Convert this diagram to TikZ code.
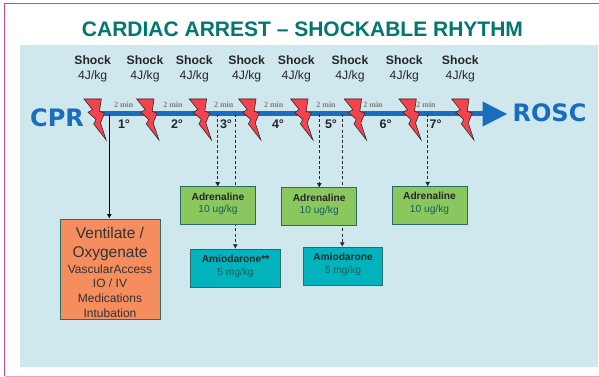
\documentclass[tikz,border=0pt]{standalone}
\usepackage{fontspec}
\setmainfont{Liberation Sans}
\newfontfamily\dejab{DejaVu Sans}
\newfontfamily\timesf{Liberation Serif}
\usetikzlibrary{arrows.meta}
\definecolor{panelc}{HTML}{CEE8EE}
\definecolor{titlec}{HTML}{00786F}
\definecolor{bluec}{HTML}{1A6DBE}
\definecolor{boltc}{HTML}{F2434F}
\definecolor{greenc}{HTML}{8AC75F}
\definecolor{tealc}{HTML}{00B3BD}
\definecolor{orangec}{HTML}{F58D5E}
\definecolor{edgec}{HTML}{2C6A66}
\definecolor{pinkc}{HTML}{C84B80}
\definecolor{pinkl}{HTML}{EDA3CC}
\definecolor{dosec}{HTML}{14605A}
\tikzset{
  x=1pt,y=-1pt,
  shocklab/.style={align=center,inner sep=0pt,font=\fontsize{12.2}{15.2}\selectfont,text=black!85},
  minlab/.style={inner sep=0pt,font=\timesf\bfseries\fontsize{8}{9}\selectfont,text=black!50},
  cyclab/.style={inner sep=0pt,font=\bfseries\fontsize{12.5}{14}\selectfont,text=black!85},
  bigblue/.style={inner sep=0pt,text=bluec,font=\dejab\bfseries\fontsize{24}{26}\selectfont},
  drugbox/.style={draw=edgec,line width=.9pt,inner sep=0pt,align=center,
     font=\fontsize{10.2}{12.6}\selectfont,text=dosec},
  adrbox/.style={drugbox,fill=greenc,minimum width=75pt,minimum height=38pt},
  amibox/.style={drugbox,fill=tealc,minimum height=38pt},
  ventbox/.style={draw=edgec,line width=.9pt,fill=orangec,inner sep=0pt,align=center,
     minimum width=100pt,minimum height=100.5pt,text=black!80,
     font=\fontsize{12}{14.8}\selectfont},
  dashline/.style={draw=black!85,line width=.8pt,dash pattern=on 3pt off 2.2pt,-{Latex[length=4.5pt,width=5pt]}},
  solidline/.style={draw=black,line width=.8pt,-{Latex[length=4.5pt,width=5pt]}},
  boltshape/.style={fill=boltc,draw=black!85,line width=.55pt,line join=miter}
}
\newcommand{\boltat}[1]{\draw[boltshape,shift={(#1,99)}] (0,0) -- (17.3,0) -- (15.5,12.3) -- (20.5,14) -- (16.5,24) -- (22.2,41) -- (9.7,25) -- (12,20.5) -- (4,13.3) -- (8.5,10.7) -- cycle;}
\newcommand{\adrtext}{\textcolor{black!85}{\textbf{Adrenaline}}\\10 ug/kg\rule[-6pt]{0pt}{6pt}}
\begin{document}
\begin{tikzpicture}
\useasboundingbox (0,0) rectangle (599,377);
\fill[white] (0,0) rectangle (599,377);
\fill[panelc] (20,45) rectangle (597.7,366.7);
\draw[pinkc,line width=.9pt] (599,3.7) -- (4.5,3.7) -- (4.5,376);
\draw[pinkl,line width=1.2pt] (4.5,376.2) -- (599,376.2);
\node[inner sep=0pt,text=titlec,font=\bfseries\fontsize{21}{24}\selectfont] (title) at (302.5,29.5) {CARDIAC ARREST – SHOCKABLE RHYTHM};
% timeline
\coordinate (tstart) at (100,114);
\coordinate (tend) at (507,114);
\draw[bluec,line width=5pt] (tstart) -- (483,114);
\fill[bluec] (482.7,101.5) -- (tend) -- (482.7,126.5) -- cycle;
\node[bigblue] (cpr) at (57,117.5) {CPR};
\node[bigblue] (rosc) at (549.5,112.5) {ROSC};
% coordinates on the timeline
\coordinate (v0) at (109.3,114);
\coordinate (d1) at (217.7,114);
\coordinate (d2) at (235.3,114);
\coordinate (d3) at (319.3,114);
\coordinate (d4) at (342.3,114);
\coordinate (d5) at (427.7,114);
% target boxes (the Amiodarone dashes pass behind the Adrenaline boxes)
\node[ventbox] (vent) at (110,269.3) {\rule{0pt}{17pt}{\fontsize{15.5}{19}\selectfont Ventilate /}\\[4.4pt]{\fontsize{15.5}{19}\selectfont Oxygenate}\\[1pt]VascularAccess\\IO / IV\\Medications\\Intubation};
\node[amibox,minimum width=89.6pt] (ami1) at (235.5,268.2) {\textcolor{black!85}{\textbf{Amiodarone**}}\\5 mg/kg\rule[-6pt]{0pt}{6pt}};
\node[amibox,minimum width=79.4pt] (ami2) at (343,266.2) {\textcolor{black!85}{\textbf{Amiodarone}}\\5 mg/kg\rule[-6pt]{0pt}{6pt}};
\coordinate (a1top) at (218,186.7);
\coordinate (a2top) at (319.2,187.7);
\coordinate (a3top) at (429.5,186.4);
% connectors
\draw[solidline] (v0) -- (v0 |- vent.north);
\draw[dashline] (d1) -- (d1 |- a1top);
\draw[dashline] (d2) -- (d2 |- ami1.north);
\draw[dashline] (d3) -- (d3 |- a2top);
\draw[dashline] (d4) -- (d4 |- ami2.north);
\draw[dashline] (d5) -- (d5 |- a3top);
\node[adrbox] (adr1) at (218,205.7) {\adrtext};
\node[adrbox] (adr2) at (319.2,206.7) {\adrtext};
\node[adrbox] (adr3) at (429.5,205.4) {\adrtext};
% bolts
\boltat{84}\boltat{136.7}\boltat{189.3}\boltat{238.7}\boltat{290.7}\boltat{344.3}\boltat{399}\boltat{451.7}
% labels
\foreach \n/\x in {1/92.7,2/145,3/194.3,4/246.7,5/296.3,6/350,7/404.3,8/460.3}{
  \node[shocklab] (s\n) at (\x,68.6) {\textbf{Shock}\\4J/kg};
}
\foreach \n/\x in {1/123.7,2/173,3/223.7,4/273.7,5/326,6/373,7/426}{
  \node[minlab] (m\n) at (\x,105) {2 min};
}
\foreach \n/\x in {1/124,2/177,3/226,4/278,5/331,6/385.7,7/435.7}{
  \node[cyclab] (c\n) at (\x,124.3) {\n°};
}
\end{tikzpicture}
\end{document}
